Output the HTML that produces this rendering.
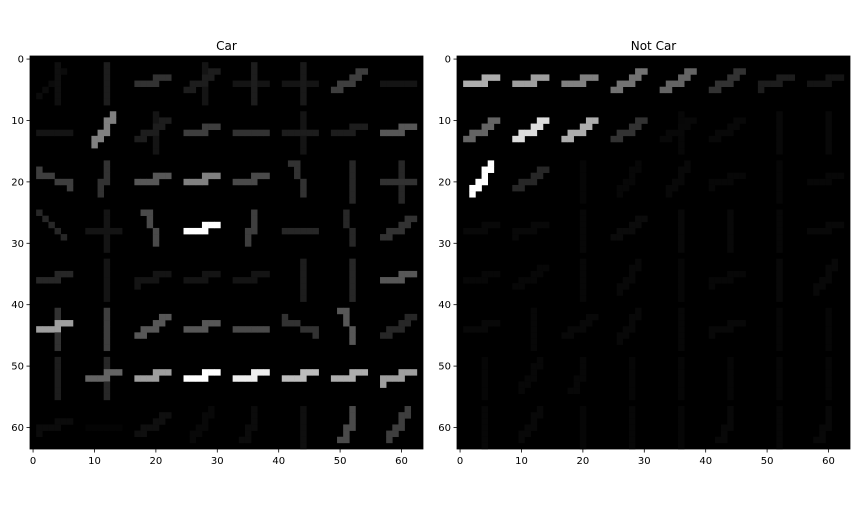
<!DOCTYPE html>
<html><head><meta charset="utf-8"><style>
body{margin:0;background:#fff;font-family:"Liberation Sans","DejaVu Sans",sans-serif}
svg text{font-family:"DejaVu Sans","Liberation Sans",sans-serif}
</style></head><body>
<svg id="fig" width="864" height="504" viewBox="0 0 864 504"></svg>
<script>
// HOG strokes: [row, col, angleDeg, intensity]
const carStrokes = [
[0,0,90,.12],[0,0,45,.1],[0,1,90,.2],[0,2,15,.3],[0,3,90,.15],[0,3,30,.2],[0,4,90,.2],[0,4,0,.15],[0,5,0,.15],[0,5,90,.18],[0,6,30,.35],[0,7,0,.15],
[1,0,0,.15],[1,1,60,.6],[1,2,30,.2],[1,2,90,.15],[1,3,10,.35],[1,4,0,.3],[1,5,0,.2],[1,5,90,.15],[1,6,15,.2],[1,7,10,.45],
[2,0,-25,.35],[2,1,75,.3],[2,2,15,.45],[2,3,10,.6],[2,4,10,.4],[2,5,-70,.3],[2,6,90,.25],[2,7,90,.25],[2,7,0,.3],
[3,0,-45,.25],[3,1,0,.15],[3,1,90,.15],[3,2,-70,.4],[3,3,10,1.0],[3,4,80,.35],[3,5,0,.25],[3,6,-75,.25],[3,7,30,.3],
[4,0,10,.25],[4,1,90,.15],[4,2,20,.15],[4,3,10,.15],[4,4,10,.15],[4,5,90,.2],[4,6,90,.25],[4,7,10,.45],
[5,0,15,.7],[5,0,90,.3],[5,1,90,.35],[5,2,30,.45],[5,3,10,.45],[5,4,0,.4],[5,5,-25,.3],[5,6,-70,.45],[5,7,30,.25],
[6,0,90,.2],[6,1,10,.5],[6,1,90,.25],[6,2,10,.7],[6,3,10,1.0],[6,4,10,.95],[6,5,10,.8],[6,6,10,.75],[6,7,20,.7],
[7,0,20,.1],[7,1,0,.05],[7,2,30,.12],[7,3,60,.08],[7,4,70,.1],[7,5,90,.12],[7,6,70,.4],[7,7,60,.35]
];
const notCarStrokes = [
[0,0,10,.75],[0,1,10,.7],[0,2,15,.6],[0,3,30,.55],[0,4,35,.5],[0,5,30,.3],[0,6,20,.2],[0,7,10,.15],
[1,0,40,.5],[1,1,40,.9],[1,2,35,.75],[1,3,30,.3],[1,4,30,.08],[1,4,90,.07],[1,5,30,.08],[1,6,90,.08],[1,7,90,.08],
[2,0,50,1.0],[2,1,35,.25],[2,2,90,.06],[2,3,60,.07],[2,4,60,.08],[2,5,20,.07],[2,6,90,.06],[2,7,10,.07],
[3,0,10,.08],[3,1,20,.08],[3,2,90,.07],[3,3,40,.1],[3,4,90,.08],[3,5,90,.08],[3,6,90,.07],[3,7,10,.08],
[4,0,10,.07],[4,1,30,.07],[4,2,90,.07],[4,3,60,.08],[4,4,90,.06],[4,5,20,.07],[4,6,90,.08],[4,7,50,.08],
[5,0,15,.08],[5,1,90,.07],[5,2,40,.08],[5,3,60,.08],[5,4,90,.07],[5,5,20,.08],[5,6,90,.06],[5,7,90,.06],
[6,0,90,.06],[6,1,60,.07],[6,2,70,.07],[6,3,90,.06],[6,4,90,.06],[6,5,90,.06],[6,6,90,.06],[6,7,90,.06],
[7,0,90,.07],[7,1,60,.08],[7,2,90,.06],[7,3,90,.07],[7,4,90,.06],[7,5,70,.08],[7,6,90,.07],[7,7,70,.08]
];
const tickValues = [0,10,20,30,40,50,60];
const titles = ["Car","Not Car"];

const NS="http://www.w3.org/2000/svg";
const svg=document.getElementById('fig');
function mk(t,a){const e=document.createElementNS(NS,t);for(const q in a)e.setAttribute(q,a[q]);return e;}
const panels=[{left:30,strokes:carStrokes},{left:457,strokes:notCarStrokes}];
const plotTop=56, size=393, N=64, k=size/N;
function rasterize(strokes){
  const g=new Float32Array(N*N);
  strokes.forEach(s=>{
    const cx=8*s[1]+4, cy=8*s[0]+4, a=s[2]*Math.PI/180;
    for(let t=-3;t<=2.99;t+=0.25){
      const x=Math.floor(cx+t*Math.cos(a)), y=Math.floor(cy-t*Math.sin(a));
      if(x>=0&&x<N&&y>=0&&y<N){const i=y*N+x; g[i]=Math.min(1,Math.max(g[i],s[3]));}
    }
  });
  return g;
}
panels.forEach((p,pi)=>{
  const xs=v=>p.left+(v+0.5)*k, ys=v=>plotTop+(v+0.5)*k;
  const g=mk('g',{});
  
  
  svg.appendChild(g);
  g.appendChild(mk('rect',{x:p.left,y:plotTop,width:size,height:size,fill:'#000'}));
  const grid=rasterize(p.strokes);
  for(let y=0;y<N;y++)for(let x=0;x<N;x++){
    const v=grid[y*N+x]; if(v<=0)continue;
    const c=Math.round(Math.pow(v,1.35)*255);
    const r=mk('rect',{x:(xs(x)-k/2).toFixed(2),y:(ys(y)-k/2).toFixed(2),width:(k+0.3).toFixed(2),height:(k+0.3).toFixed(2),fill:`rgb(${c},${c},${c})`});
    
    
    g.appendChild(r);
  }
  g.appendChild(mk('rect',{x:p.left,y:plotTop,width:size,height:size,fill:'none',stroke:'#000','stroke-width':0.8}));
  const title=mk('text',{x:p.left+size/2,y:50,'text-anchor':'middle','font-size':12,fill:'#000'});
  title.textContent=titles[pi];
  
  
  svg.appendChild(title);
  tickValues.forEach(v=>{
    svg.appendChild(mk('line',{x1:xs(v),x2:xs(v),y1:plotTop+size,y2:plotTop+size+3.5,stroke:'#000','stroke-width':0.8}));
    const tx=mk('text',{x:xs(v),y:plotTop+size+15,'text-anchor':'middle','font-size':10,fill:'#000'});
    tx.textContent=v;
    
    
    svg.appendChild(tx);
    svg.appendChild(mk('line',{x1:p.left-3.5,x2:p.left,y1:ys(v),y2:ys(v),stroke:'#000','stroke-width':0.8}));
    const ty=mk('text',{x:p.left-6,y:ys(v)+3.5,'text-anchor':'end','font-size':10,fill:'#000'});
    ty.textContent=v;
    
    
    svg.appendChild(ty);
  });
});
</script>
</body></html>
